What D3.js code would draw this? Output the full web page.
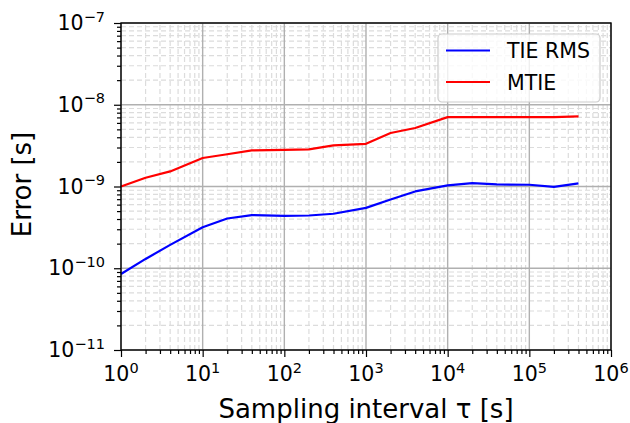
<!DOCTYPE html>
<html>
<head>
<meta charset="utf-8">
<script src="https://cdn.jsdelivr.net/npm/d3@7"></script>
<style>
  body { margin: 0; background: #fff; }
  svg { font-family: "DejaVu Sans", sans-serif; }
</style>
</head>
<body>
<svg id="chart" width="630" height="423"></svg>
<script>
// sampling intervals (s)
const tau = [1, 2, 4, 10, 20, 40, 100, 200, 400, 1000, 2000, 4000, 10000, 20000, 40000, 100000, 200000, 400000];
const tieRms = [8.5e-11, 1.3e-10, 1.93e-10, 3.18e-10, 4.06e-10, 4.47e-10, 4.38e-10, 4.42e-10, 4.64e-10, 5.48e-10, 6.95e-10, 8.7e-10, 1.03e-9, 1.1e-9, 1.06e-9, 1.05e-9, 9.9e-10, 1.09e-9];
const mtie = [1.0e-9, 1.28e-9, 1.53e-9, 2.23e-9, 2.48e-9, 2.76e-9, 2.81e-9, 2.85e-9, 3.18e-9, 3.33e-9, 4.51e-9, 5.19e-9, 7.05e-9, 7.05e-9, 7.05e-9, 7.05e-9, 7.05e-9, 7.2e-9];
const xExps = [0, 1, 2, 3, 4, 5, 6];
const yExps = [-11, -10, -9, -8, -7];
const series = [
  { name: 'TIE RMS', values: tieRms, color: '#0000ff' },
  { name: 'MTIE', values: mtie, color: '#ff0000' }
];

const margin = { left: 121, right: 19, top: 23, bottom: 73 };
const svg = d3.select('#chart');
const W = 630, H = 423;
const x = d3.scaleLog().domain([1, 1e6]).range([margin.left, W - margin.right]);
const y = d3.scaleLog().domain([1e-11, 1e-7]).range([H - margin.bottom, margin.top]);

// minor positions 2..9 of each decade
const minorX = [];
xExps.slice(0, -1).forEach(e => { for (let k = 2; k <= 9; k++) minorX.push(k * Math.pow(10, e)); });
const minorY = [];
yExps.slice(0, -1).forEach(e => { for (let k = 2; k <= 9; k++) minorY.push(k * Math.pow(10, e)); });
const majorX = xExps.map(e => Math.pow(10, e));
const majorY = yExps.map(e => Math.pow(10, e));

const grid = svg.append('g');
// minor grid
grid.selectAll('.mgx').data(minorX).enter().append('line')
  .attr('x1', d => x(d)).attr('x2', d => x(d))
  .attr('y1', y.range()[0]).attr('y2', y.range()[1])
  .attr('stroke', '#dcdcdc').attr('stroke-width', 1.2).attr('stroke-dasharray', '5,3');
grid.selectAll('.mgy').data(minorY).enter().append('line')
  .attr('y1', d => y(d)).attr('y2', d => y(d))
  .attr('x1', x.range()[0]).attr('x2', x.range()[1])
  .attr('stroke', '#dcdcdc').attr('stroke-width', 1.2).attr('stroke-dasharray', '5,3');
// major grid
grid.selectAll('.gx').data(majorX).enter().append('line')
  .attr('x1', d => x(d)).attr('x2', d => x(d))
  .attr('y1', y.range()[0]).attr('y2', y.range()[1])
  .attr('stroke', '#b0b0b0').attr('stroke-width', 1.4);
grid.selectAll('.gy').data(majorY).enter().append('line')
  .attr('y1', d => y(d)).attr('y2', d => y(d))
  .attr('x1', x.range()[0]).attr('x2', x.range()[1])
  .attr('stroke', '#b0b0b0').attr('stroke-width', 1.4);

// lines
const line = d3.line().x((d, i) => x(tau[i])).y(d => y(d));
series.forEach(s => {
  svg.append('path').datum(s.values)
    .attr('d', line).attr('fill', 'none')
    .attr('stroke', s.color).attr('stroke-width', 2.2)
    .attr('stroke-linejoin', 'round');
});

// frame
svg.append('rect')
  .attr('x', margin.left).attr('y', margin.top)
  .attr('width', W - margin.left - margin.right).attr('height', H - margin.top - margin.bottom)
  .attr('fill', 'none').attr('stroke', '#000').attr('stroke-width', 1.4);

// axes
const xAxis = svg.append('g').attr('transform', `translate(0,${H - margin.bottom})`);
xAxis.call(d3.axisBottom(x).tickValues(majorX).tickSize(7).tickFormat(''));
xAxis.append('g').call(d3.axisBottom(x).tickValues(minorX).tickSize(4).tickFormat(''));
const yAxis = svg.append('g').attr('transform', `translate(${margin.left},0)`);
yAxis.call(d3.axisLeft(y).tickValues(majorY).tickSize(7).tickFormat(''));
yAxis.append('g').call(d3.axisLeft(y).tickValues(minorY).tickSize(4).tickFormat(''));
svg.selectAll('.domain').remove();
svg.selectAll('.tick line').attr('stroke', '#000').attr('stroke-width', 1.2);

// tick labels
xExps.forEach(e => {
  const t = svg.append('text').attr('x', x(Math.pow(10, e))).attr('y', 381)
    .attr('text-anchor', 'middle').attr('font-size', 20.5).attr('fill', '#000');
  t.append('tspan').text('10');
  t.append('tspan').text(e).attr('font-size', 14.5).attr('dy', -8.5);
});
yExps.forEach(e => {
  const t = svg.append('text').attr('x', 105).attr('y', y(Math.pow(10, e)) + 7)
    .attr('text-anchor', 'end').attr('font-size', 20.5).attr('fill', '#000');
  t.append('tspan').text('10');
  t.append('tspan').text('\u2212' + Math.abs(e)).attr('font-size', 14.5).attr('dy', -8.5);
});

// axis titles
svg.append('text').attr('x', (x.range()[0] + x.range()[1]) / 2).attr('y', 418)
  .attr('text-anchor', 'middle').attr('font-size', 26).text('Sampling interval \u03c4 [s]');
svg.append('text')
  .attr('transform', `translate(31,${(y.range()[0] + y.range()[1]) / 2 - 2}) rotate(-90)`)
  .attr('text-anchor', 'middle').attr('font-size', 26).text('Error [s]');

// legend
const lg = svg.append('g');
lg.append('rect').attr('x', 438).attr('y', 34).attr('width', 162).attr('height', 68)
  .attr('rx', 4).attr('fill', '#fff').attr('fill-opacity', 0.8)
  .attr('stroke', '#cccccc').attr('stroke-width', 1.2);
series.forEach((s, i) => {
  const cy = 50.5 + i * 31.5;
  lg.append('line').attr('x1', 446).attr('x2', 490).attr('y1', cy).attr('y2', cy)
    .attr('stroke', s.color).attr('stroke-width', 2.2);
  lg.append('text').attr('x', 507).attr('y', cy + 7.5).attr('font-size', 20.5).text(s.name);
});
</script>
</body>
</html>
